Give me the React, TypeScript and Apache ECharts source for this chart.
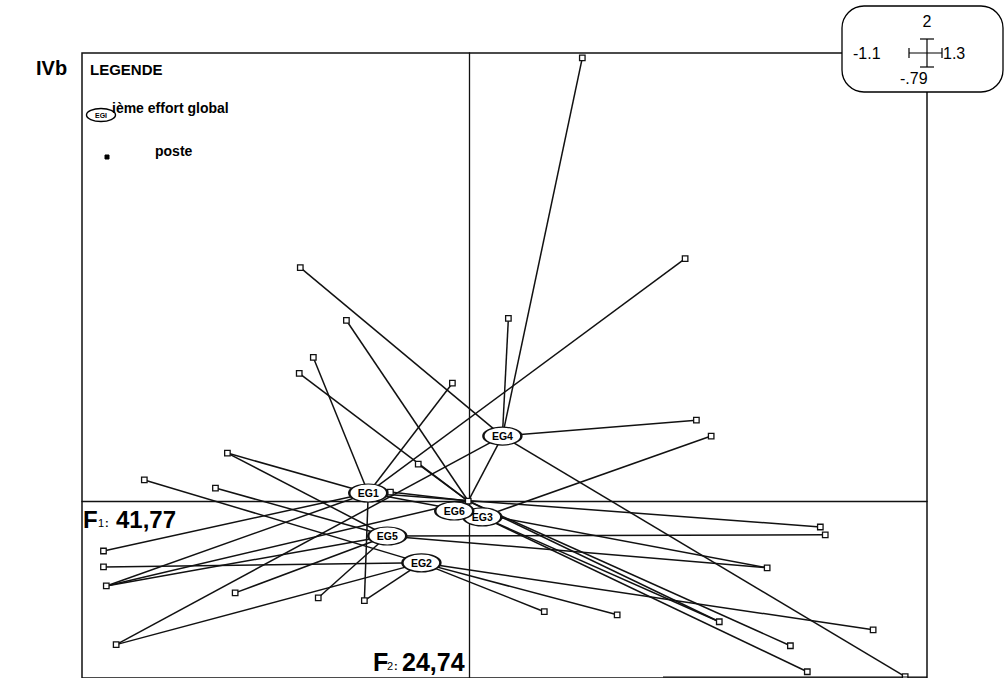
import React, { useEffect, useRef } from "react";
import * as echarts from "echarts";

const F1_MIN = -1.1;
const F1_MAX = 1.3;
const F2_MIN = -0.79;
const F2_MAX = 2;

// "ième effort global" points
const egNames = ["EG1", "EG2", "EG3", "EG4", "EG5", "EG6"];
const egX = [-0.287, -0.136, 0.037, 0.094, -0.233, -0.003];
const egY = [0.036, -0.276, -0.071, 0.29, -0.156, 0.0];

// postes
const posteX = [
  -0.003, 0.321, 0.613, -0.48, -0.349, -0.443, -0.483, -0.048, -0.145, -0.687,
  -0.923, -0.721, -1.039, -1.039, -1.031, -1.003, -0.665, -0.429, -0.298, 0.645,
  0.687, 0.111, -0.224, 0.997, 1.011, 0.846, 0.213, 0.42, 0.71, 0.912, 0.96,
  1.147, 1.238,
];
const posteY = [
  0.0, 1.978, 1.082, 1.042, 0.806, 0.641, 0.57, 0.526, 0.165, 0.214, 0.094,
  0.058, -0.223, -0.294, -0.379, -0.641, -0.41, -0.432, -0.445, 0.361, 0.29,
  0.815, 0.04, -0.116, -0.151, -0.298, -0.494, -0.508, -0.539, -0.646, -0.762,
  -0.575, -0.784,
];
// for each poste, the efforts (EG index) it is linked to
const posteLinks: number[][] = [
  [3], [3], [0], [3], [5], [0], [5], [0], [5], [0, 4],
  [1], [4], [0], [1], [0, 5, 4], [3, 1], [4], [4], [0, 1], [3],
  [2], [3], [0, 5], [0], [4], [0, 4], [1], [1], [2, 5], [5], [2],
  [1], [3],
];

const FONT = "'Liberation Sans', Arial, Helvetica, sans-serif";

function txt(x: number, y: number, text: string, size: number, weight: string, align = "left") {
  return {
    type: "text",
    x,
    y,
    z: 20,
    style: {
      text,
      fontSize: size,
      fontWeight: weight,
      fontFamily: FONT,
      fill: "#000",
      textAlign: align,
      textVerticalAlign: "middle",
      align,
      verticalAlign: "middle",
    },
  };
}

function seg(x1: number, y1: number, x2: number, y2: number, w = 1.3) {
  return {
    type: "line",
    z: 21,
    shape: { x1, y1, x2, y2 },
    style: { stroke: "#000", lineWidth: w },
  };
}

export default function App() {
  const ref = useRef<HTMLDivElement>(null);

  useEffect(() => {
    if (!ref.current) return;
    const chart = echarts.init(ref.current, undefined, { renderer: "svg" });

    const lineData: any[] = [];
    posteLinks.forEach((egs, i) => {
      egs.forEach((e) => {
        lineData.push({ coords: [[posteX[i], posteY[i]], [egX[e], egY[e]]] });
      });
    });

    const posteData = posteX.map((x, i) => [x, posteY[i]]);
    const egData = egNames.map((n, i) => ({
      name: n,
      value: [egX[i], egY[i]],
      symbolOffset: n === "EG6" ? [-14, 10] : [0, 0],
    }));

    const axisCommon = {
      type: "value",
      axisLine: { show: true, onZero: true, lineStyle: { color: "#111", width: 1.3 } },
      axisTick: { show: false },
      axisLabel: { show: false },
      splitLine: { show: false },
    };

    chart.setOption({
      animation: false,
      backgroundColor: "#fff",
      grid: {
        left: 82,
        top: 53,
        width: 845,
        height: 626.4,
        show: true,
        borderColor: "#111",
        borderWidth: 1.5,
        backgroundColor: "transparent",
      },
      xAxis: { ...axisCommon, min: F1_MIN, max: F1_MAX },
      yAxis: { ...axisCommon, min: F2_MIN, max: F2_MAX },
      series: [
        {
          type: "lines",
          coordinateSystem: "cartesian2d",
          data: lineData,
          symbol: "none",
          silent: true,
          z: 2,
          lineStyle: { color: "#111", width: 1.5, opacity: 1 },
        },
        {
          type: "scatter",
          data: posteData,
          symbol: "rect",
          symbolSize: 5.5,
          z: 3,
          silent: true,
          itemStyle: { color: "#fff", borderColor: "#111", borderWidth: 1.3, opacity: 1 },
        },
        {
          type: "scatter",
          data: egData,
          symbol: "path://M0,9A19,9,0,1,1,38,9A19,9,0,1,1,0,9Z",
          symbolSize: [38, 18],
          z: 4,
          silent: true,
          itemStyle: { color: "#fff", borderColor: "#111", borderWidth: 1.7, opacity: 1 },
          label: {
            show: true,
            position: "inside",
            formatter: "{b}",
            color: "#000",
            fontSize: 10.5,
            fontWeight: "bold",
            fontFamily: FONT,
          },
        },
      ],
      graphic: [
        txt(36, 68, "IVb", 20, "bold"),
        txt(90, 69, "LEGENDE", 15, "bold"),
        {
          type: "ellipse",
          z: 19,
          shape: { cx: 101, cy: 115, rx: 14.5, ry: 6.5 },
          style: { fill: "#fff", stroke: "#000", lineWidth: 1.4 },
        },
        txt(101, 115, "EGI", 7, "bold", "center"),
        txt(112, 108, "ième effort global", 14, "bold"),
        {
          type: "rect",
          z: 20,
          shape: { x: 105, y: 155, width: 4, height: 4 },
          style: { fill: "#000", stroke: "#000", lineWidth: 1 },
        },
        txt(155, 151, "poste", 14, "bold"),
        // F1 label
        txt(83, 519, "F", 24, "bold"),
        txt(98, 523, "1", 11, "normal"),
        txt(105, 523, ":", 11, "bold"),
        txt(116, 519, "41,77", 24, "bold"),
        // F2 label
        txt(373, 662, "F", 25, "bold"),
        txt(387, 666, "2", 11, "normal"),
        txt(394, 666, ":", 11, "bold"),
        txt(402, 662, "24,74", 25, "bold"),
        // partial bottom border
        seg(663, 677, 927, 677, 1.2),
        // scale box
        {
          type: "rect",
          z: 19,
          shape: { x: 842, y: 6, width: 161, height: 86, r: 22 },
          style: { fill: "#fff", stroke: "#000", lineWidth: 1.3 },
        },
        txt(927, 21, "2", 16, "normal", "center"),
        txt(853, 53, "-1.1", 16, "normal"),
        txt(943, 53, "1.3", 16, "normal"),
        txt(900, 78, "-.79", 16, "normal"),
        seg(909, 53, 942, 53, 1.2),
        seg(909, 48, 909, 58, 1.2),
        seg(942, 48, 942, 58, 1.2),
        seg(927, 39, 927, 67, 1.2),
        seg(920, 39, 934, 39, 1.2),
        seg(920, 67, 934, 67, 1.2),
      ],
    });

    return () => chart.dispose();
  }, []);

  return (
    <div
      ref={ref}
      style={{ position: "fixed", left: 0, top: 0, width: 1008, height: 678, background: "#fff" }}
    />
  );
}
